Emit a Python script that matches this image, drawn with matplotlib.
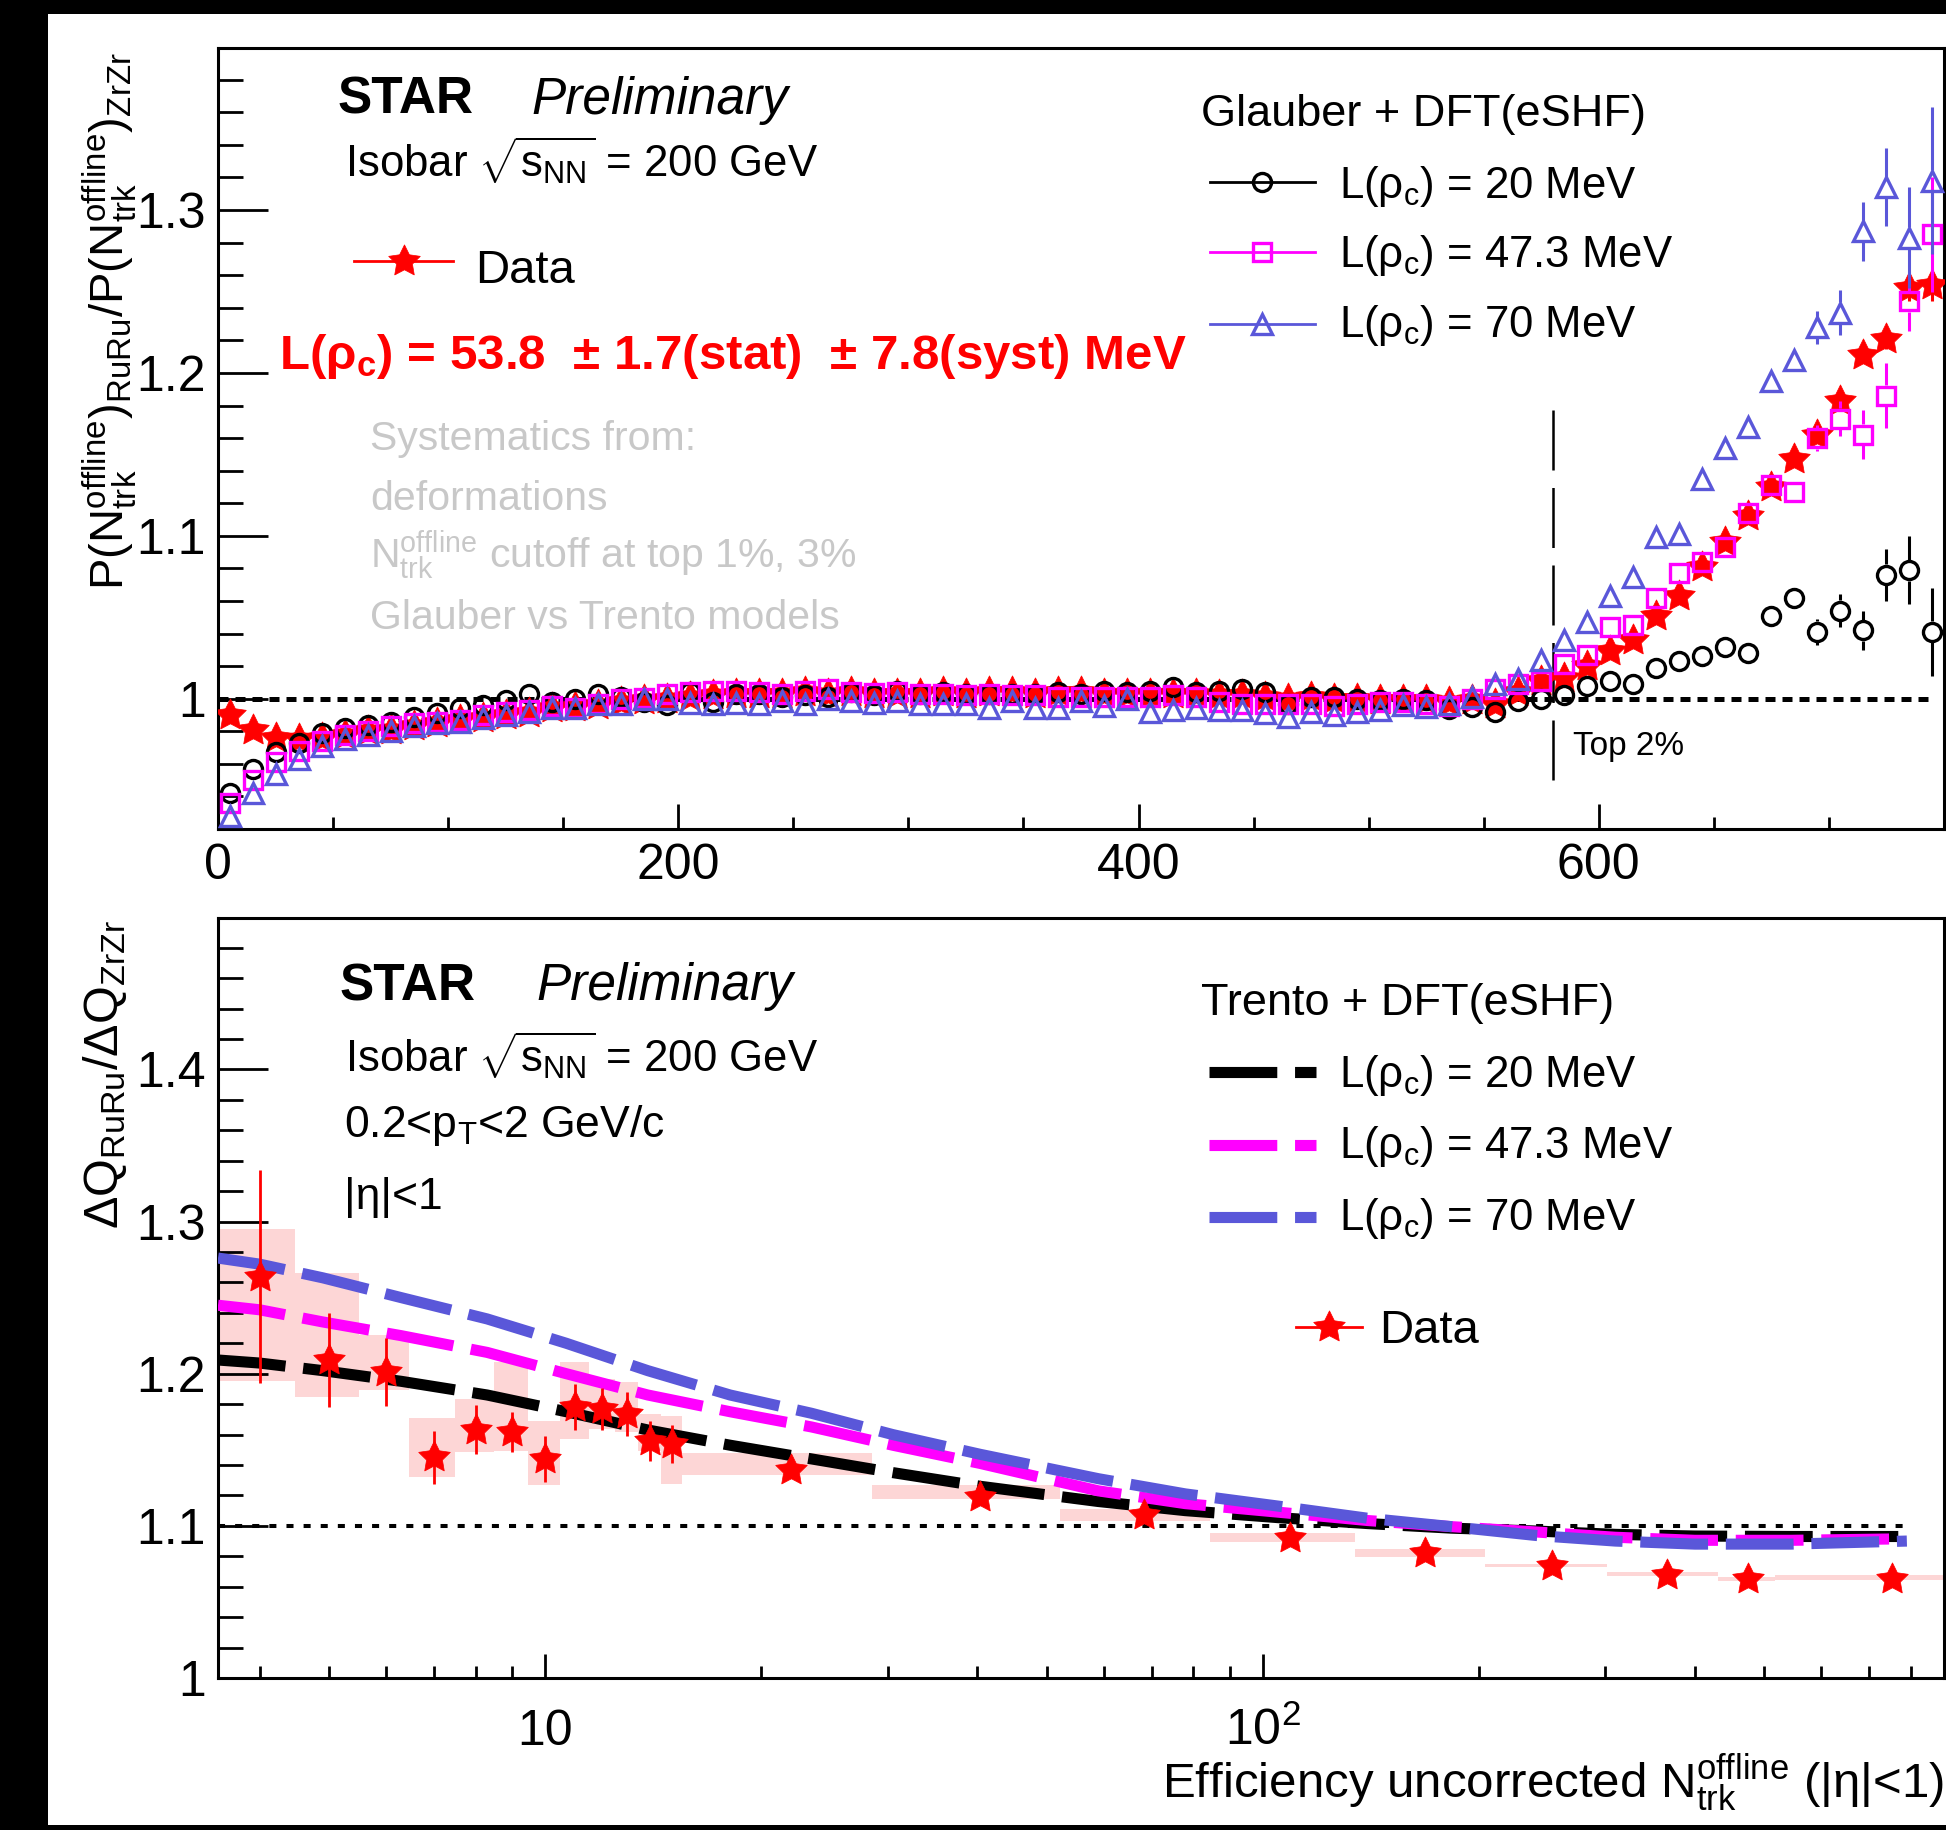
import numpy as np
import matplotlib
matplotlib.use('Agg')
import matplotlib.pyplot as plt
from matplotlib.ticker import MultipleLocator, FuncFormatter, LogLocator, NullFormatter, FixedLocator
from matplotlib.patches import Rectangle
from matplotlib.lines import Line2D
import matplotlib.transforms as mtransforms

plt.rcParams['font.family'] = ['Liberation Sans', 'DejaVu Sans']
plt.rcParams['mathtext.fontset'] = 'custom'
plt.rcParams['mathtext.rm'] = 'Liberation Sans'
plt.rcParams['mathtext.it'] = 'Liberation Sans:italic'
plt.rcParams['mathtext.bf'] = 'Liberation Sans:bold'

# ---------------- DATA: top panel (multiplicity ratio) ----------------
nch_bins = np.arange(5, 750, 10)  # bin centres, width 10

ratio_data = [
    0.990, 0.981, 0.976, 0.975, 0.976, 0.978, 0.980, 0.981, 0.983, 0.985,
    0.987, 0.988, 0.990, 0.991, 0.994, 0.995, 0.996, 0.998, 0.999, 1.000,
    1.001, 1.002, 1.003, 1.003, 1.003, 1.004, 1.003, 1.004, 1.003, 1.003,
    1.003, 1.004, 1.003, 1.004, 1.004, 1.003, 1.004, 1.004, 1.003, 1.003,
    1.003, 1.003, 1.003, 1.002, 1.002, 1.001, 1.000, 1.001, 1.000, 1.000,
    0.999, 0.999, 0.999, 0.998, 0.999, 0.997, 1.004, 1.011, 1.013, 1.020,
    1.029, 1.036, 1.051, 1.063, 1.081, 1.096, 1.112, 1.130, 1.147, 1.162,
    1.183, 1.211, 1.221, 1.252, 1.254]
ratio_L20 = [
    0.942, 0.957, 0.967, 0.973, 0.979, 0.982, 0.984, 0.986, 0.989, 0.991,
    0.994, 0.996, 0.999, 1.003, 0.998, 1.000, 1.003, 1.001, 0.998, 0.996,
    1.004, 0.998, 1.003, 1.003, 1.001, 1.002, 1.001, 1.004, 1.002, 1.005,
    1.003, 1.004, 1.003, 1.003, 1.003, 1.003, 1.004, 1.003, 1.005, 1.004,
    1.005, 1.007, 1.004, 1.005, 1.006, 1.004, 0.997, 1.001, 1.001, 1.000,
    0.999, 1.000, 0.999, 0.9935, 0.995, 0.992, 0.9986, 0.9996, 1.002, 1.008,
    1.011, 1.009, 1.019, 1.023, 1.026, 1.032, 1.028, 1.051, 1.062, 1.041,
    1.054, 1.042, 1.076, 1.079, 1.041]
ratio_L47 = [
    0.936, 0.950, 0.961, 0.968, 0.974, 0.978, 0.980, 0.983, 0.985, 0.986,
    0.987, 0.990, 0.992, 0.993, 0.9955, 0.9945, 0.9965, 0.9996, 1.0006, 1.0027,
    1.004, 1.005, 1.005, 1.004, 1.003, 1.005, 1.006, 1.004, 1.0035, 1.004,
    1.003, 1.003, 1.002, 1.003, 1.002, 1.002, 1.001, 1.001, 1.001, 1.001,
    1.001, 1.002, 1.001, 0.998, 0.997, 0.9965, 0.997, 0.997, 0.9955, 0.997,
    0.998, 0.998, 0.997, 0.9955, 1.000, 1.006, 1.009, 1.011, 1.021, 1.027,
    1.044, 1.045, 1.062, 1.077, 1.084, 1.093, 1.114, 1.131, 1.127, 1.160,
    1.172, 1.162, 1.186, 1.244, 1.285]
ratio_L70 = [
    0.928, 0.942, 0.954, 0.963, 0.971, 0.975, 0.978, 0.980, 0.983, 0.985,
    0.986, 0.988, 0.990, 0.992, 0.9945, 0.9945, 0.9965, 0.9965, 1.000, 0.9996,
    0.9975, 0.9965, 0.9975, 0.9965, 0.9986, 0.9965, 0.9996, 0.9986, 0.9975, 0.9986,
    0.9965, 0.9965, 0.9965, 0.9945, 0.9986, 0.9945, 0.9945, 0.9986, 0.9955, 0.9996,
    0.992, 0.993, 0.9945, 0.993, 0.993, 0.991, 0.989, 0.992, 0.990, 0.992,
    0.993, 0.996, 0.995, 0.997, 1.001, 1.009, 1.012, 1.024, 1.036, 1.047,
    1.063, 1.075, 1.099, 1.101, 1.135, 1.154, 1.167, 1.195, 1.208, 1.228,
    1.237, 1.287, 1.314, 1.283, 1.318]
# statistical errors of the last 12 bins (635 ... 745); smaller errors hidden by markers
err_tail_start = 635
err_data_tail = [0.003, 0.003, 0.003, 0.003, 0.004, 0.004, 0.004, 0.005, 0.005, 0.006, 0.008, 0.010]
err_L20_tail = [0.003, 0.003, 0.003, 0.003, 0.004, 0.005, 0.008, 0.010, 0.012, 0.016, 0.021, 0.027]
err_L47_tail = [0.003, 0.003, 0.003, 0.004, 0.004, 0.005, 0.008, 0.011, 0.015, 0.020, 0.018, 0.035]
err_L70_tail = [0.003, 0.003, 0.003, 0.003, 0.005, 0.006, 0.010, 0.014, 0.018, 0.024, 0.031, 0.045]
top2_cut = 580

# ---------------- DATA: bottom panel (Delta Q ratio) ----------------
dq_x = [4, 5, 6, 7, 8, 9, 10, 11, 12, 13, 14, 15, 22, 40.4, 68.3, 109, 168.5, 252.7, 365.6, 474.6, 753.7]
dq_y = [1.2638, 1.2088, 1.2011, 1.145, 1.1633, 1.1615, 1.1439, 1.178, 1.1769, 1.1736, 1.156, 1.1538,
        1.137, 1.119, 1.107, 1.0922, 1.0823, 1.0735, 1.068, 1.065, 1.0651]
dq_stat = [0.070, 0.031, 0.0225, 0.0176, 0.016, 0.013, 0.015, 0.015, 0.0137, 0.0143, 0.0132, 0.0127,
           0.004, 0.003, 0.002, 0.002, 0.002, 0.002, 0.002, 0.002, 0.002]
dq_sys_lo = [1.195, 1.185, 1.189, 1.132, 1.1487, 1.1494, 1.1267, 1.157, 1.1637, 1.1615, 1.1494, 1.1274,
             1.1333, 1.1176, 1.103, 1.0893, 1.0797, 1.0728, 1.0673, 1.064, 1.0642]
dq_sys_hi = [1.295, 1.266, 1.2253, 1.1707, 1.1835, 1.2077, 1.169, 1.2077, 1.1967, 1.1945, 1.1736, 1.172,
             1.1479, 1.127, 1.111, 1.0955, 1.0845, 1.0752, 1.0695, 1.0662, 1.068]
dq_bin_edges = [3.5, 4.48, 5.5, 6.47, 7.48, 8.49, 9.47, 10.5, 11.5, 12.5, 13.47, 14.5, 15.5, 28.5,
                52.2, 84.5, 134.3, 204, 302, 431, 517, 895]

model_x = [3.5, 4.0, 4.9, 6.3, 8.3, 10.7, 13.9, 18.1, 23.5, 30.5, 40.4, 59, 78, 105, 140, 183, 240, 310, 400, 545, 790]
trento_L20 = [1.209, 1.207, 1.202, 1.195, 1.186, 1.175, 1.163, 1.153, 1.144, 1.135, 1.126, 1.116, 1.110,
              1.1054, 1.1015, 1.0985, 1.0966, 1.0944, 1.0933, 1.093, 1.093]
trento_L47 = [1.245, 1.242, 1.234, 1.225, 1.214, 1.200, 1.186, 1.175, 1.165, 1.153, 1.141, 1.123, 1.1146,
              1.109, 1.1035, 1.0995, 1.096, 1.0925, 1.0905, 1.0905, 1.0915]
trento_L70 = [1.276, 1.272, 1.263, 1.250, 1.236, 1.220, 1.202, 1.186, 1.174, 1.160, 1.147, 1.131, 1.121,
              1.113, 1.105, 1.0995, 1.0937, 1.090, 1.088, 1.088, 1.090]

legend_labels = ['L(ρ$_\\mathrm{c}$) = 20 MeV', 'L(ρ$_\\mathrm{c}$) = 47.3 MeV', 'L(ρ$_\\mathrm{c}$) = 70 MeV']

# ---------------- styling ----------------
RED = '#ff0000'
BLACK = '#000000'
MAG = '#ff00ff'
BLUE = '#5a57d9'
GRAY = '#c8c8c8'
PINK = '#fdd6d6'
STAR = (5, 1, 0)   # fat five-pointed star (ROOT marker 29 look)
STAR_MS = 24

W, H = 1946, 1830
fig = plt.figure(figsize=(W / 100, H / 100), dpi=100, facecolor='black')
fig.patches.append(Rectangle((48 / W, 5 / H), (W - 48) / W, (1825 - 14) / H,
                             transform=fig.transFigure, facecolor='white', edgecolor='none', zorder=-10))


def ftext(x, y, s, **kw):
    kw.setdefault('ha', 'left')
    kw.setdefault('va', 'baseline')
    fig.text(x / W, 1 - y / H, s, **kw)


def style_axes(ax):
    ax.set_zorder(1)
    for sp in ax.spines.values():
        sp.set_linewidth(2.2)
    ax.tick_params(which='both', direction='in', top=False, right=False, width=2.0, labelsize=36)
    ax.tick_params(axis='y', which='major', length=36, pad=9)
    ax.tick_params(axis='y', which='minor', length=18)
    ax.tick_params(axis='x', which='major', length=18, pad=10)
    ax.tick_params(axis='x', which='minor', length=9)


# ================= TOP PANEL =================
ax1 = fig.add_axes([218 / W, 1 - 829 / H, (1944 - 218) / W, (829 - 48) / H])
ax1.set_xlim(0, 750)
ax1.set_ylim(0.92, 1.3995)
style_axes(ax1)
ax1.xaxis.set_major_locator(MultipleLocator(200))
ax1.xaxis.set_minor_locator(MultipleLocator(50))
ax1.yaxis.set_major_locator(MultipleLocator(0.1))
ax1.yaxis.set_minor_locator(MultipleLocator(0.02))
ax1.yaxis.set_major_formatter(FuncFormatter(lambda v, p: '%g' % round(v, 3)))

ax1.plot([0, 745], [1, 1], color='black', lw=3.6, ls=(0, (2.0, 1.4)), zorder=1)
ax1.plot([top2_cut, top2_cut], [0.95, 1.18], color='black', lw=1.8, ls=(0, (24, 7)), zorder=1)
ax1.text(589, 0.9657, 'Top 2%', fontsize=24, ha='left', va='baseline')

px_per_unit = ax1.transData.transform((0, 1))[1] - ax1.transData.transform((0, 0))[1]
gap = 10.5 / px_per_unit

tail_mask = nch_bins >= err_tail_start
xt = nch_bins[tail_mask]

ax1.errorbar(xt, np.array(ratio_data)[tail_mask], yerr=err_data_tail, fmt='none', ecolor=RED,
             elinewidth=2.2, zorder=2)
ax1.plot(nch_bins, ratio_data, ls='none', marker=STAR, ms=STAR_MS, color=RED, mec=RED, mew=0.5, zorder=3)

for vals, errs, col, mk, ms, zo in [
        (ratio_L20, err_L20_tail, BLACK, 'o', 13, 4),
        (ratio_L47, err_L47_tail, MAG, 's', 13, 5),
        (ratio_L70, err_L70_tail, BLUE, '^', 14, 6)]:
    v = np.array(vals)[tail_mask]
    e = np.array(errs)
    big = e > gap
    ax1.vlines(xt[big], v[big] + gap, v[big] + e[big], color=col, lw=2.2, zorder=zo)
    ax1.vlines(xt[big], v[big] - e[big], v[big] - gap, color=col, lw=2.2, zorder=zo)
    ax1.plot(nch_bins, vals, ls='none', marker=mk, ms=ms, mfc='none', mec=col, mew=2.4, zorder=zo)

# texts top panel
ftext(338, 114, 'STAR', fontsize=37, fontweight='bold')
ftext(531, 114, 'Preliminary', fontsize=37, fontstyle='italic')
ftext(345, 177, r'Isobar $\sqrt{\mathrm{s}_{\mathrm{NN}}}$ = 200 GeV', fontsize=31.5)
fig.add_artist(Line2D([354 / W, 453 / W], [1 - 261 / H] * 2, transform=fig.transFigure, color=RED, lw=2))
fig.add_artist(Line2D([404 / W], [1 - 261 / H], transform=fig.transFigure, marker=STAR, ms=STAR_MS,
                      color=RED, mew=0.5, ls='none'))
ftext(475, 283, 'Data', fontsize=34)
ftext(279, 369, r'L(ρ$_\mathbf{c}$) = 53.8  ± 1.7(stat)  ± 7.8(syst) MeV', fontsize=35.5,
      fontweight='bold', color=RED)
ftext(370, 450, 'Systematics from:', fontsize=29.5, color=GRAY)
ftext(370, 510, 'deformations', fontsize=29.5, color=GRAY)
ftext(370, 568, r'$\mathrm{N^{offline}_{trk}}$ cutoff at top 1%, 3%', fontsize=29.5, color=GRAY)
ftext(370, 629, 'Glauber vs Trento models', fontsize=29.5, color=GRAY)

ftext(1201, 126, 'Glauber + DFT(eSHF)', fontsize=32.5)
for (col, mk, ms), ly, ty, lab in zip([(BLACK, 'o', 13), (MAG, 's', 13), (BLUE, '^', 14)],
                                      [182, 252, 324], [198, 267, 337], legend_labels):
    fig.add_artist(Line2D([1210 / W, 1315 / W], [1 - ly / H] * 2, transform=fig.transFigure, color=col, lw=2))
    fig.add_artist(Line2D([1262 / W], [1 - ly / H], transform=fig.transFigure, marker=mk, ms=ms,
                          mfc='none', mec=col, mew=2.4, ls='none'))
    ftext(1339, ty, lab, fontsize=31.5)

fig.text(124 / W, 1 - 52 / H,
         r'$\mathrm{P(N^{offline}_{trk})_{RuRu}/P(N^{offline}_{trk})_{ZrZr}}$',
         rotation=90, rotation_mode='anchor', ha='right', va='baseline', fontsize=34)

# ================= BOTTOM PANEL =================
ax2 = fig.add_axes([218 / W, 1 - 1678 / H, (1944 - 218) / W, (1678 - 918) / H])
ax2.set_xscale('log')
ax2.set_xlim(3.5, 890)
ax2.set_ylim(1.0, 1.4995)
style_axes(ax2)
ax2.yaxis.set_major_locator(MultipleLocator(0.1))
ax2.yaxis.set_minor_locator(MultipleLocator(0.02))
ax2.yaxis.set_major_formatter(FuncFormatter(lambda v, p: '%g' % round(v, 3)))
ax2.xaxis.set_major_locator(FixedLocator([10, 100]))
ax2.xaxis.set_minor_locator(LogLocator(base=10, subs=np.arange(2, 10)))
ax2.xaxis.set_major_formatter(NullFormatter())
ax2.xaxis.set_minor_formatter(NullFormatter())
ax2.tick_params(axis='x', which='major', length=17)
ax2.tick_params(axis='x', which='minor', length=8.5)

edges = np.array(dq_bin_edges)
lo = np.array(dq_sys_lo)
hi = np.array(dq_sys_hi)
ax2.bar(edges[:-1], hi - lo, bottom=lo, width=np.diff(edges), align='edge', color=PINK,
        edgecolor='none', zorder=1)
ax2.plot([3.5, 790], [1.1, 1.1], color='black', lw=2.9, ls=(0, (1.75, 2.5)), zorder=2)
for vals, col in [(trento_L20, BLACK), (trento_L47, MAG), (trento_L70, BLUE)]:
    ax2.plot(model_x, vals, color=col, lw=8, ls=(0, (6.1, 1.6)), zorder=3)
ax2.errorbar(dq_x, dq_y, yerr=dq_stat, fmt='none', ecolor=RED, elinewidth=2.0, zorder=4)
ax2.plot(dq_x, dq_y, ls='none', marker=STAR, ms=STAR_MS, color=RED, mew=0.5, zorder=5)

# x tick labels (log axis)
btr = mtransforms.blended_transform_factory(ax2.transData, fig.transFigure)
ax2.text(10, 1 - 1745 / H, '10', transform=btr, ha='center', va='baseline', fontsize=36)
ax2.text(100, 1 - 1745 / H, r'$\mathrm{10^{2}}$', transform=btr, ha='center', va='baseline', fontsize=36)

ftext(340, 1000, 'STAR', fontsize=37, fontweight='bold')
ftext(536, 1000, 'Preliminary', fontsize=37, fontstyle='italic')
ftext(345, 1072, r'Isobar $\sqrt{\mathrm{s}_{\mathrm{NN}}}$ = 200 GeV', fontsize=31.5)
ftext(344, 1137, r'0.2<p$_\mathrm{T}$<2 GeV/c', fontsize=32)
ftext(344, 1209, '|η|<1', fontsize=32)

ftext(1201, 1015, 'Trento + DFT(eSHF)', fontsize=32.5)
for col, ly, ty, lab in zip([BLACK, MAG, BLUE], [1072, 1145, 1217], [1087, 1158, 1230], legend_labels):
    fig.add_artist(Line2D([1209 / W, 1316 / W], [1 - ly / H] * 2, transform=fig.transFigure, color=col,
                          lw=8, ls=(0, (6.1, 1.6)), solid_capstyle='butt'))
    ftext(1339, ty, lab, fontsize=31.5)
fig.add_artist(Line2D([1296 / W, 1362 / W], [1 - 1327 / H] * 2, transform=fig.transFigure, color=RED, lw=2))
fig.add_artist(Line2D([1329 / W], [1 - 1327 / H], transform=fig.transFigure, marker=STAR, ms=STAR_MS,
                      color=RED, mew=0.5, ls='none'))
ftext(1379, 1343, 'Data', fontsize=34)

fig.text(118 / W, 1 - 920 / H, r'$\mathrm{\Delta Q_{RuRu}/\Delta Q_{ZrZr}}$',
         rotation=90, rotation_mode='anchor', ha='right', va='baseline', fontsize=35)
ftext(1944, 1798, r'Efficiency uncorrected $\mathrm{N^{offline}_{trk}}$ (|η|<1)', fontsize=35.5, ha='right')

fig.savefig('out.png', dpi=100, facecolor='black')
